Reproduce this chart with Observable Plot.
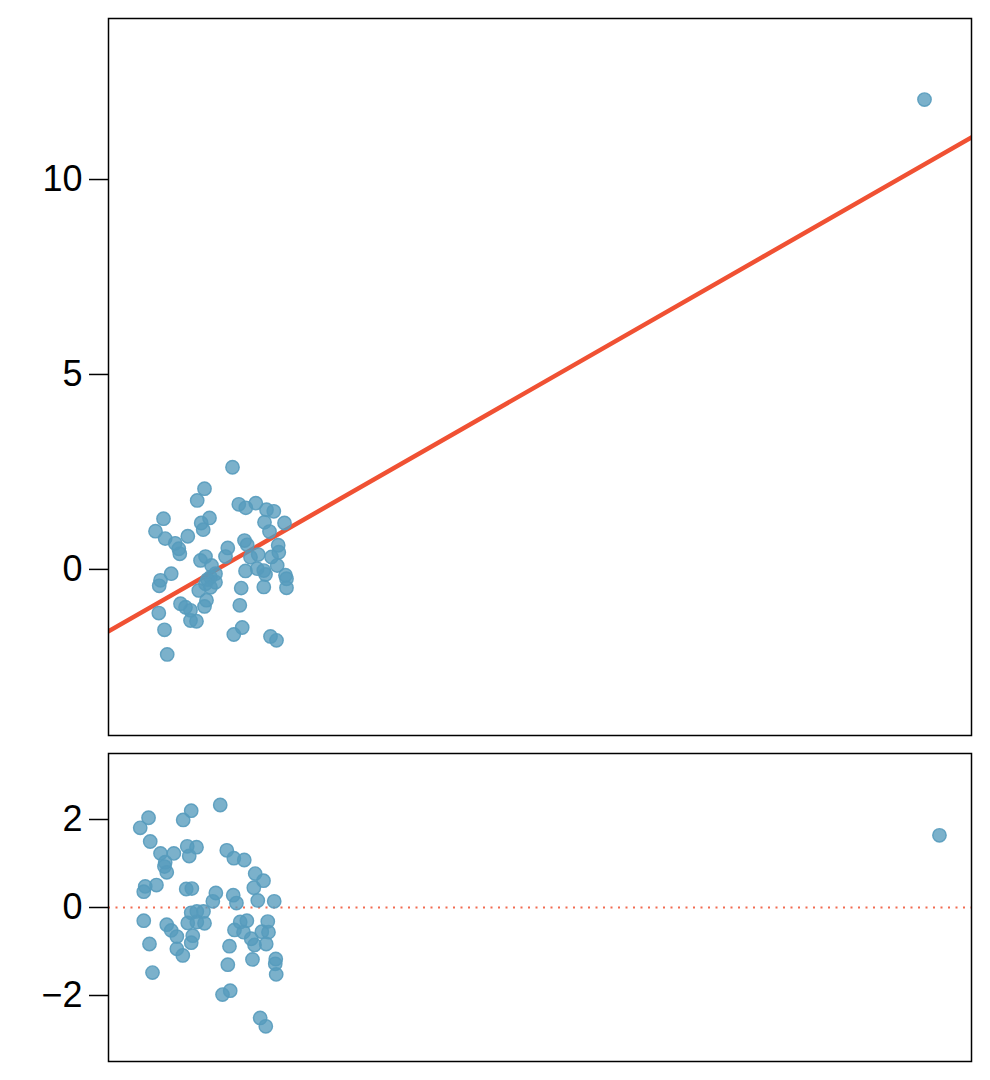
<!DOCTYPE html>
<html>
<head>
<meta charset="utf-8">
<script src="https://cdn.jsdelivr.net/npm/d3@7"></script>
<script src="https://cdn.jsdelivr.net/npm/@observablehq/plot@0.6"></script>
<style>
  html, body { margin: 0; padding: 0; background: #fff; }
  #chart svg { display: block; }
</style>
</head>
<body>
<div id="chart"></div>
<script>
// Top panel: observed points (x, y)
const topX = [12.4, 9.6, 8.87, 13.03, 13.73, 14.73, 15.8, 16.53, 5.5, 10.1, 9.27, 15.6, 17.6, 4.7, 9.47, 16.1, 5.67, 7.93, 13.6, 6.67, 13.87, 7.03, 11.93, 7.13, 16.97, 17.03, 14.97, 16.3, 9.7, 9.2, 11.7, 14.2, 16.87, 10.3, 13.7, 14.87, 15.53, 15.7, 6.27, 10.7, 17.7, 17.8, 10.2, 9.9, 5.2, 10.7, 5.07, 9.7, 10.2, 9.03, 13.27, 15.53, 17.8, 9.8, 7.2, 7.7, 8.2, 9.6, 13.13, 5.03, 8.2, 8.8, 13.37, 5.6, 12.53, 16.2, 16.8, 5.87, 81.6];
const topY = [2.62, 2.07, 1.77, 1.67, 1.58, 1.70, 1.53, 1.49, 1.30, 1.32, 1.19, 1.21, 1.19, 0.98, 1.02, 0.97, 0.79, 0.85, 0.74, 0.67, 0.63, 0.53, 0.55, 0.40, 0.62, 0.44, 0.38, 0.32, 0.33, 0.23, 0.33, 0.31, 0.10, 0.10, -0.04, 0.02, -0.03, -0.13, -0.11, -0.11, -0.15, -0.24, -0.20, -0.26, -0.28, -0.33, -0.42, -0.37, -0.46, -0.54, -0.48, -0.45, -0.47, -0.79, -0.88, -0.97, -1.05, -0.95, -0.92, -1.12, -1.31, -1.33, -1.49, -1.55, -1.67, -1.72, -1.82, -2.18, 12.05];

// Fitted line endpoints
const fitX = [0, 86.3];
const fitY = [-1.59, 11.08];

// Bottom panel: residuals (x, residual)
const resX = [12.46, 9.67, 8.90, 5.57, 4.77, 5.73, 6.72, 8.00, 9.29, 10.18, 9.48, 7.17, 7.10, 7.32, 13.09, 13.77, 14.77, 15.82, 16.62, 15.69, 5.25, 5.11, 6.33, 9.19, 9.73, 12.04, 11.75, 13.71, 14.02, 16.07, 17.65, 10.21, 10.85, 9.67, 5.11, 7.32, 7.75, 8.29, 9.34, 10.21, 10.95, 9.82, 9.67, 5.66, 8.29, 8.86, 5.95, 14.38, 15.02, 13.83, 14.70, 15.44, 15.76, 13.35, 16.46, 17.03, 17.10, 16.88, 15.56, 13.19, 17.80, 17.75, 17.84, 12.68, 13.42, 16.30, 16.84, 81.60];
const resY = [2.33, 2.20, 1.99, 2.04, 1.81, 1.50, 1.23, 1.23, 1.39, 1.37, 1.17, 1.03, 0.93, 0.80, 1.30, 1.12, 1.08, 0.77, 0.61, 0.45, 0.48, 0.36, 0.51, 0.42, 0.43, 0.33, 0.14, 0.28, 0.10, 0.16, 0.14, -0.09, -0.09, -0.12, -0.30, -0.39, -0.52, -0.66, -0.35, -0.33, -0.36, -0.64, -0.80, -0.83, -0.94, -1.09, -1.48, -0.33, -0.30, -0.51, -0.56, -0.71, -0.85, -0.88, -0.55, -0.32, -0.56, -0.83, -1.18, -1.30, -1.17, -1.28, -1.52, -1.98, -1.89, -2.51, -2.70, 1.64];

const topTicks = [0, 5, 10];
const resTicks = [-2, 0, 2];

const topData = topX.map((x, i) => ({x, y: topY[i]}));
const fitData = fitX.map((x, i) => ({x, y: fitY[i]}));
const resData = resX.map((x, i) => ({x, y: resY[i]}));

const ptColor = "#569BBD";
const lineColor = "#F05133";
const font = "'Liberation Sans', Arial, Helvetica, sans-serif";
const fmt = d3.format("d");

const common = {
  width: 990,
  marginLeft: 108,
  marginRight: 19,
  style: {fontFamily: font, fontSize: "36px", color: "#000", background: "#fff"}
};

const axisOpts = (ticks) => ({
  ticks, tickSize: 19, tickPadding: 7, tickFormat: fmt,
  fontSize: 36, label: null, strokeWidth: 1.5, stroke: "#000", fill: "#000"
});

const dotOpts = {x: "x", y: "y", r: 6.7, fill: ptColor, fillOpacity: 0.78, stroke: ptColor, strokeOpacity: 0.9, strokeWidth: 1.4};

const topChart = Plot.plot({
  ...common,
  height: 744,
  marginTop: 18,
  marginBottom: 9,
  x: {domain: [0, 86.3], axis: null},
  y: {domain: [-4.26, 14.13]},
  marks: [
    Plot.axisY(axisOpts(topTicks)),
    Plot.line(fitData, {x: "x", y: "y", stroke: lineColor, strokeWidth: 4.5, clip: true}),
    Plot.dot(topData, dotOpts),
    Plot.frame({stroke: "#000", strokeWidth: 1.5})
  ]
});

const bottomChart = Plot.plot({
  ...common,
  height: 336,
  marginTop: 9,
  marginBottom: 19,
  x: {domain: [1.72, 84.68], axis: null},
  y: {domain: [-3.5, 3.5]},
  marks: [
    Plot.axisY(axisOpts(resTicks)),
    Plot.ruleY([0], {stroke: lineColor, strokeWidth: 2, strokeOpacity: 0.85, strokeDasharray: "2,5.5"}),
    Plot.dot(resData, dotOpts),
    Plot.frame({stroke: "#000", strokeWidth: 1.5})
  ]
});

const el = document.getElementById("chart");
el.appendChild(topChart);
el.appendChild(bottomChart);
</script>
</body>
</html>
